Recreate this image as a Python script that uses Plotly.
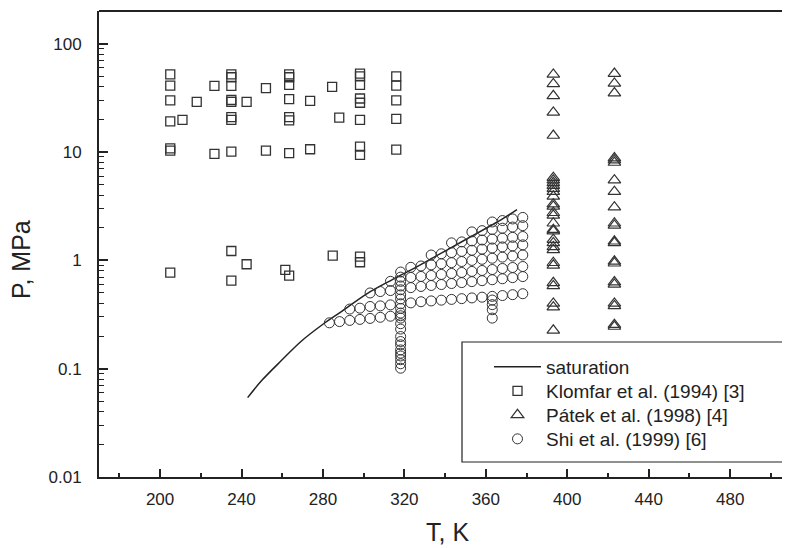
import plotly.graph_objects as go

# ---------------- data ----------------
sat_T = [243.0, 250.0, 259.8, 269.6, 279.5, 289.4, 301.7, 314.1, 324.0, 336.3, 348.6, 361.0, 368.0, 375.3]
sat_P = [0.054, 0.078, 0.120, 0.181, 0.253, 0.340, 0.494, 0.665, 0.830, 1.117, 1.50, 2.02, 2.40, 2.94]

klomfar_T = [205, 205, 205, 205, 205, 205, 205,
             211, 218, 226.7, 226.7,
             235, 235, 235, 235, 235, 235, 235, 235, 235, 235,
             242.5, 242.5, 252, 252, 261.5,
             263.4, 263.4, 263.4, 263.4, 263.4, 263.4, 263.4, 263.4,
             273.7, 273.7, 284.5, 284.8, 288,
             298.2, 298.2, 298.2, 298.2, 298.2, 298.2, 298.2, 298.2, 298.2, 298.2,
             316, 316, 316, 316, 316]
klomfar_P = [52, 41, 30, 19.2, 10.3, 10.8, 0.77,
             19.8, 29, 40.8, 9.6,
             52, 49, 40.8, 30.2, 29, 21, 19.8, 10.1, 1.22, 0.65,
             29, 0.92, 38.8, 10.3, 0.817,
             52, 49, 41.6, 30.8, 21, 19.6, 9.76, 0.724,
             29.7, 10.6, 40, 1.107, 20.8,
             53, 50, 41.6, 31.2, 28.5, 19.8, 11.2, 9.4, 1.08, 0.96,
             50, 41, 30, 20.2, 10.5]

patek_T = [393.15] * 30 + [423.15] * 21
patek_P = [52, 42.5, 33, 23.2, 14.2, 5.8, 5.5, 5.2, 4.9, 4.6, 4.3, 3.9, 3.3, 3.15, 2.75,
           2.6, 2.2, 1.92, 1.86, 1.55, 1.45, 1.33, 1.25, 0.95, 0.9, 0.62, 0.58, 0.40, 0.37, 0.226,
           53, 43, 35, 8.8, 8.4, 8.0, 5.5, 4.3, 3.1, 2.2, 2.1, 1.5, 1.45, 0.98, 0.94,
           0.63, 0.60, 0.40, 0.38, 0.255, 0.245]

# Shi et al.: isochores (rows) and two isotherm columns
shi_T = (
    [283.15, 288.15, 293.15, 298.15, 303.15, 308.15, 313.15]
    + [293.15, 298.15, 303.15, 308.15, 313.15]
    + [303.15, 308.15, 313.15]
    + [313.15]
    + [318.15] * 23
    + [323.15, 328.15, 333.15, 338.15, 343.15, 348.15, 353.15, 358.15, 363.15, 368.15, 373.15, 378.15]
    + [323.15, 328.15, 333.15, 338.15, 343.15, 348.15, 353.15, 358.15, 363.15, 368.15, 373.15, 378.15]
    + [323.15, 328.15, 333.15, 338.15, 343.15, 348.15, 353.15, 358.15, 363.15, 368.15, 373.15, 378.15]
    + [323.15, 328.15, 333.15, 338.15, 343.15, 348.15, 353.15, 358.15, 363.15, 368.15, 373.15, 378.15]
    + [333.15, 338.15, 343.15, 348.15, 353.15, 358.15, 363.15, 368.15, 373.15, 378.15]
    + [343.15, 348.15, 353.15, 358.15, 363.15, 368.15, 373.15, 378.15]
    + [353.15, 358.15, 363.15, 368.15, 373.15, 378.15]
    + [363.15, 368.15, 373.15, 378.15]
    + [363.15] * 4
)
shi_P = (
    [0.265, 0.272, 0.279, 0.285, 0.291, 0.298, 0.305]
    + [0.355, 0.362, 0.375, 0.380, 0.388]
    + [0.500, 0.515, 0.526]
    + [0.640]
    + [0.78, 0.70, 0.64, 0.58, 0.535, 0.48, 0.44, 0.397, 0.36, 0.326, 0.308, 0.293, 0.26,
       0.232, 0.198, 0.178, 0.166, 0.149, 0.139, 0.131, 0.121, 0.111, 0.101]
    + [0.405, 0.415, 0.422, 0.429, 0.436, 0.443, 0.450, 0.457, 0.465, 0.473, 0.482, 0.492]
    + [0.560, 0.574, 0.586, 0.598, 0.611, 0.623, 0.636, 0.649, 0.662, 0.676, 0.692, 0.708]
    + [0.695, 0.710, 0.725, 0.741, 0.757, 0.773, 0.790, 0.806, 0.823, 0.841, 0.859, 0.877]
    + [0.862, 0.887, 0.908, 0.930, 0.952, 0.975, 0.998, 1.022, 1.046, 1.071, 1.096, 1.121]
    + [1.12, 1.15, 1.18, 1.21, 1.24, 1.27, 1.30, 1.33, 1.36, 1.39]
    + [1.45, 1.48, 1.51, 1.54, 1.57, 1.60, 1.63, 1.66]
    + [1.83, 1.88, 1.93, 1.98, 2.03, 2.09]
    + [2.26, 2.33, 2.41, 2.49]
    + [0.43, 0.39, 0.35, 0.293]
)

x_ticks = [200, 240, 280, 320, 360, 400, 440, 480]
x_minor = [180, 220, 260, 300, 340, 380, 420, 460, 500]
y_ticks = [0.01, 0.1, 1, 10, 100]
y_ticktext = ["0.01", "0.1", "1", "10", "100"]
y_minor = [m * d for d in [0.01, 0.1, 1, 10] for m in range(2, 10)] + [200]

# ---------------- figure ----------------
INK = "#222222"
MK = "#333333"
FONT = "Liberation Sans, Arial, sans-serif"

# the page body has an 8px margin; figure is sized to fill the rest of the window
OFF = 8
W, H = 782, 540
L, R, T, B = 91, 0, 3, 71
pw, ph = W - L - R, H - T - B


def px(xp):  # window pixel -> paper x
    return (xp - OFF - L) / pw


def py(yp):  # window pixel -> paper y
    return (H - B - (yp - OFF)) / ph


fig = go.Figure()
fig.add_trace(go.Scatter(x=sat_T, y=sat_P, mode="lines", name="saturation", legend="legend",
                         line=dict(color=INK, width=1.5, shape="spline")))
fig.add_trace(go.Scatter(x=klomfar_T, y=klomfar_P, mode="markers", name="Klomfar et al. (1994) [3]",
                         legend="legend2",
                         marker=dict(symbol="square-open", size=9, color=MK, line=dict(width=1.3, color=MK))))
fig.add_trace(go.Scatter(x=patek_T, y=patek_P, mode="markers", name="Pátek et al. (1998) [4]",
                         legend="legend3",
                         marker=dict(symbol="triangle-up-open", size=11, color=MK, line=dict(width=1.2, color=MK))))
fig.add_trace(go.Scatter(x=shi_T, y=shi_P, mode="markers", name="Shi et al. (1999) [6]",
                         legend="legend4",
                         marker=dict(symbol="circle-open", size=10, color=MK, line=dict(width=1.0, color=MK))))


def leg(ypix):
    return dict(x=px(489), y=py(ypix), xanchor="left", yanchor="middle",
                bgcolor="rgba(0,0,0,0)", borderwidth=0,
                font=dict(size=19, family=FONT, color=INK), itemwidth=47)


# legend frame: open on the right, it runs past the window edge
bx0, bx1, by0, by1 = px(462), 1.06, py(462), py(342)
frame_path = f"M {bx1},{by0} L {bx0},{by0} L {bx0},{by1} L {bx1},{by1}"

fig.update_layout(
    width=W, height=H,
    margin=dict(l=L, r=R, t=T, b=B),
    paper_bgcolor="white", plot_bgcolor="white",
    font=dict(family=FONT, color=INK),
    showlegend=True,
    legend=leg(367), legend2=leg(391), legend3=leg(415), legend4=leg(439),
    xaxis=dict(range=[170, 170 + pw / 2.036], showgrid=False, zeroline=False,
               showline=True, linewidth=2, linecolor=INK,
               tickvals=x_ticks, ticks="inside", ticklen=8, tickwidth=1.5, tickcolor=INK,
               tickfont=dict(size=17, family=FONT, color=INK), ticklabelstandoff=6,
               minor=dict(tickvals=x_minor, ticks="inside", ticklen=4, tickwidth=1.5, tickcolor=INK)),
    yaxis=dict(type="log", range=[-2, 2.3017], showgrid=False, zeroline=False,
               showline=True, linewidth=2, linecolor=INK,
               tickvals=y_ticks, ticktext=y_ticktext, ticks="inside", ticklen=9, tickwidth=1.5, tickcolor=INK,
               tickfont=dict(size=17, family=FONT, color=INK), ticklabelstandoff=12,
               minor=dict(tickvals=y_minor, ticks="inside", ticklen=5, tickwidth=1.2, tickcolor=INK)),
    shapes=[
        dict(type="line", xref="paper", yref="paper", x0=0, x1=1.05, y0=1, y1=1,
             line=dict(color=INK, width=2)),
        dict(type="path", xref="paper", yref="paper", path=frame_path,
             line=dict(color=INK, width=1.2)),
    ],
    annotations=[
        dict(text="T, K", xref="paper", yref="paper", x=px(447), y=py(532), showarrow=False,
             xanchor="center", yanchor="middle", font=dict(size=25, family=FONT, color=INK)),
        dict(text="P, MPa", xref="paper", yref="paper", x=px(21), y=py(260), showarrow=False,
             textangle=-90, xanchor="center", yanchor="middle", font=dict(size=25, family=FONT, color=INK)),
    ],
)

fig.write_html("out.html")
